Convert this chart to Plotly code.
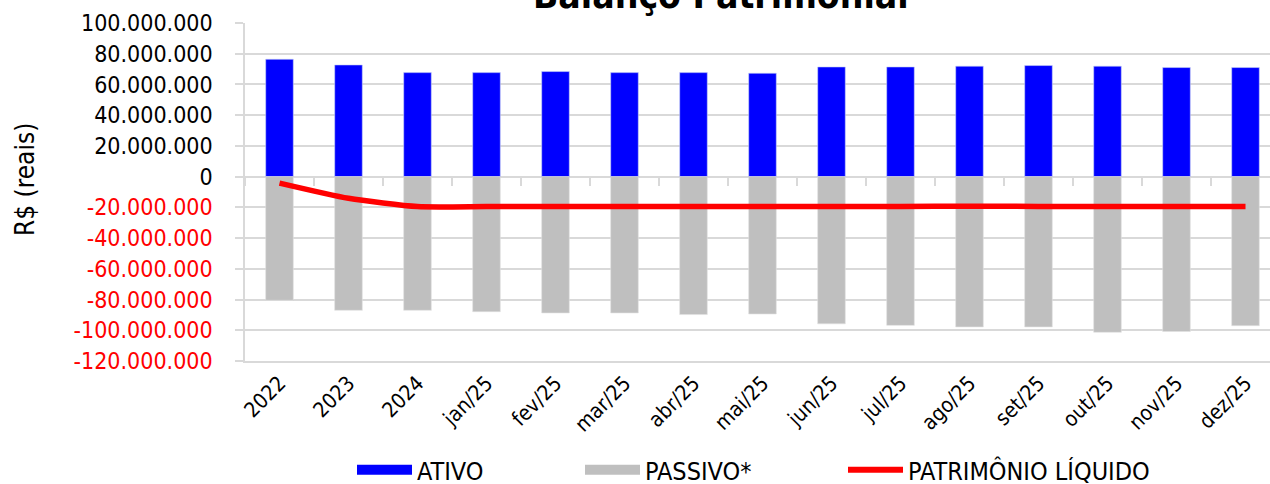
import plotly.graph_objects as go

categories = ["2022", "2023", "2024", "jan/25", "fev/25", "mar/25", "abr/25", "mai/25",
              "jun/25", "jul/25", "ago/25", "set/25", "out/25", "nov/25", "dez/25"]
ativo = [76.4, 72.7, 67.7, 67.7, 68.4, 67.7, 67.7, 67.3, 71.4, 71.4, 71.9, 72.3, 71.9, 71.0, 71.0]
passivo = [-80.5, -87.0, -87.0, -87.9, -88.7, -88.7, -89.8, -89.4, -95.8, -96.8, -97.8, -97.8, -101.3, -100.8, -97.0]
patrimonio = [-4.2, -14.1, -19.5, -19.5, -19.5, -19.5, -19.5, -19.5, -19.5, -19.4, -19.2, -19.4, -19.5, -19.5, -19.5]
y_ticks = [100, 80, 60, 40, 20, 0, -20, -40, -60, -80, -100, -120]

M = 1_000_000
ativo_v = [v * M for v in ativo]
passivo_v = [v * M for v in passivo]
pl_v = [v * M for v in patrimonio]


def fmt(v):
    s = f"{int(abs(v) * M):,}".replace(",", ".")
    if v < 0:
        return f"<span style='color:#FF0000'>-{s}</span>"
    return s


tickvals = [v * M for v in y_ticks]
ticktext = [fmt(v) for v in y_ticks]

FONT = "DejaVu Sans Condensed, DejaVu Sans, sans-serif"
GRID = "#D9D9D9"
BLUE, GRAY, RED = "#0000FF", "#BFBFBF", "#FF0000"

# plot area in pixels (for converting text placement)
L, T, W, H = 245, 23, 1025, 338

fig = go.Figure()
fig.add_trace(go.Bar(x=categories, y=ativo_v, name="ATIVO", marker_color=BLUE,
                     marker_line=dict(color="#C9D3F5", width=0.6), width=0.4,
                     offsetgroup="a", showlegend=False))
fig.add_trace(go.Bar(x=categories, y=passivo_v, name="PASSIVO*", marker_color=GRAY,
                     marker_line=dict(color="#E0E0E0", width=0.6), width=0.4,
                     offsetgroup="a", showlegend=False))
fig.add_trace(go.Scatter(x=categories, y=pl_v, name="PATRIMÔNIO LÍQUIDO", mode="lines",
                         line=dict(color=RED, width=5.5, shape="spline", smoothing=0.6),
                         xaxis="x2", showlegend=False))
# legend entries (wide swatches like the reference), one legend box each
legend_items = [("ATIVO", BLUE, 18, "legend", 352),
                ("PASSIVO*", GRAY, 18, "legend2", 580),
                ("PATRIMÔNIO LÍQUIDO", RED, 6, "legend3", 843)]
for nm, col, w, lg, _ in legend_items:
    fig.add_trace(go.Scatter(x=[None], y=[None], name=nm, mode="lines", legend=lg,
                             line=dict(color=col, width=w), showlegend=True, hoverinfo="skip"))

ymin, ymax = -120 * M, 100 * M
zero_pos = (0 - ymin) / (ymax - ymin)

legend_style = dict(orientation="h", xref="container", xanchor="left",
                    yref="container", y=1 - 470 / 484, yanchor="middle",
                    font=dict(size=25), itemwidth=55, bgcolor="rgba(0,0,0,0)")
legends = {}
for _, _, _, lg, xpx in legend_items:
    legends[lg] = dict(legend_style, x=xpx / 1270)

fig.update_layout(
    width=1270, height=484,
    margin=dict(l=L, r=0, t=T, b=484 - T - H, autoexpand=False),
    paper_bgcolor="white", plot_bgcolor="white",
    font=dict(family=FONT, size=21, color="black"),
    barmode="relative",
    bargap=0.6,
    xaxis=dict(type="category", range=[-0.5, 14.355], showgrid=False,
               showline=True, linecolor=GRID, linewidth=1.5,
               ticks="", tickangle=-45, tickfont=dict(size=21)),
    xaxis2=dict(type="category", overlaying="x", matches="x", anchor="free",
                position=zero_pos, side="bottom", showgrid=False, showline=False,
                showticklabels=False, ticks="outside", tickson="boundaries",
                ticklen=8, tickcolor=GRID, tickwidth=1.5),
    yaxis=dict(range=[ymin, ymax], tickvals=tickvals, ticktext=ticktext,
               showgrid=True, gridcolor=GRID, gridwidth=1.5,
               zeroline=True, zerolinecolor=GRID, zerolinewidth=1.5,
               showline=True, linecolor=GRID, linewidth=1.5,
               ticks="outside", ticklen=8, tickcolor=GRID, tickwidth=1.5,
               ticklabelstandoff=18, tickfont=dict(size=23)),
    showlegend=True,
    annotations=[
        dict(text="<b>Balanço Patrimonial</b>", xref="paper", yref="paper",
             x=(721 - L) / W, y=(T + H + 5) / H, showarrow=False,
             xanchor="center", yanchor="middle",
             font=dict(family=FONT, size=37, color="black")),
        dict(text="R$ (reais)", textangle=-90, xref="paper", yref="paper",
             x=(25 - L) / W, y=(T + H - 180) / H, showarrow=False,
             xanchor="center", yanchor="middle", font=dict(size=26, color="black")),
    ],
    **legends,
)

fig.write_html("out.html", config={"displayModeBar": False},
               post_script="document.body.style.margin='0px';document.body.style.overflow='hidden';")
